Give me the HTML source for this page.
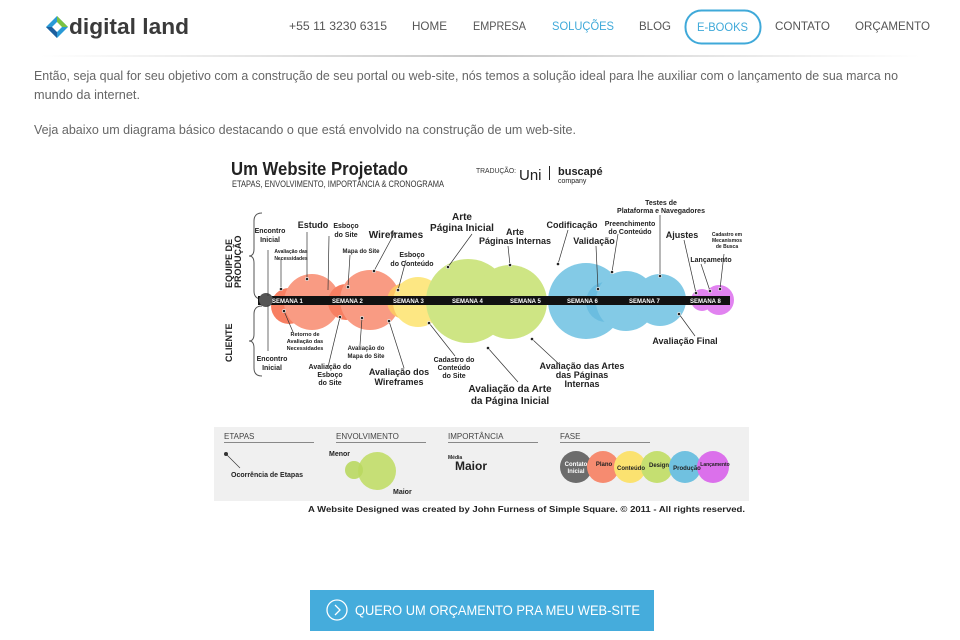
<!DOCTYPE html>
<html><head><meta charset="utf-8"><style>
body{margin:0;width:960px;height:640px;background:#fff;overflow:hidden;font-family:"Liberation Sans",sans-serif}
svg{display:block}
</style></head><body>
<svg width="960" height="640" viewBox="0 0 960 640" xmlns="http://www.w3.org/2000/svg" font-family="Liberation Sans, sans-serif">
<defs><linearGradient id="sh" x1="0" x2="1"><stop offset="0" stop-color="#fff"/><stop offset="0.5" stop-color="#c8c8c8"/><stop offset="1" stop-color="#fff"/></linearGradient></defs>
<g transform="translate(46,16)">
<polygon points="11,0 22,11 11,22 0,11" fill="#2a9ad6"/>
<polygon points="11,0 22,11 11,11" fill="#7cc242"/>
<polygon points="0,11 11,22 11,11" fill="#1d5f9e"/>
<polygon points="11,6 16,11 11,16 6,11" fill="#fff"/>
</g>
<text x="69" y="34" font-size="22" font-weight="bold" fill="#3a3a3a" textLength="120" lengthAdjust="spacingAndGlyphs">digital land</text>
<g font-size="12" fill="#555">
<text x="289" y="30" textLength="98" lengthAdjust="spacingAndGlyphs">+55 11 3230 6315</text>
<text x="412" y="30" textLength="35" lengthAdjust="spacingAndGlyphs">HOME</text>
<text x="473" y="30" textLength="53" lengthAdjust="spacingAndGlyphs">EMPRESA</text>
<text x="552" y="30" fill="#3fa9d9" textLength="62" lengthAdjust="spacingAndGlyphs">SOLUÇÕES</text>
<text x="639" y="30" textLength="32" lengthAdjust="spacingAndGlyphs">BLOG</text>
<text x="697" y="31" fill="#3fa9d9" textLength="51" lengthAdjust="spacingAndGlyphs">E-BOOKS</text>
<text x="775" y="30" textLength="55" lengthAdjust="spacingAndGlyphs">CONTATO</text>
<text x="855" y="30" textLength="75" lengthAdjust="spacingAndGlyphs">ORÇAMENTO</text>
</g>
<rect x="685.5" y="10.5" width="75" height="33" rx="16" fill="none" stroke="#3fa9d9" stroke-width="2"/>
<rect x="40" y="55" width="880" height="2" fill="url(#sh)"/>
<g font-size="13" fill="#666">
<text x="34" y="80" textLength="864" lengthAdjust="spacingAndGlyphs">Então, seja qual for seu objetivo com a construção de seu portal ou web-site, nós temos a solução ideal para lhe auxiliar com o lançamento de sua marca no</text>
<text x="34" y="99" textLength="106" lengthAdjust="spacingAndGlyphs">mundo da internet.</text>
<text x="34" y="134" textLength="542" lengthAdjust="spacingAndGlyphs">Veja abaixo um diagrama básico destacando o que está envolvido na construção de um web-site.</text>
</g>
<text x="231" y="175" font-size="18" font-weight="bold" fill="#222" textLength="177" lengthAdjust="spacingAndGlyphs">Um Website Projetado</text>
<text x="232" y="187" font-size="9" fill="#333" textLength="212" lengthAdjust="spacingAndGlyphs">ETAPAS, ENVOLVIMENTO, IMPORTÂNCIA &amp; CRONOGRAMA</text>
<text x="476" y="173" font-size="7" fill="#333" textLength="40" lengthAdjust="spacingAndGlyphs">TRADUÇÃO:</text>
<text x="519" y="180" font-size="15" fill="#222">Uni</text>
<rect x="549" y="166" width="1" height="14" fill="#222"/>
<text x="558" y="175" font-size="11" font-weight="bold" fill="#222">buscapé</text>
<text x="558" y="183" font-size="7" fill="#222">company</text>
<path d="M262,213 q-8,0 -8,8 v28 q0,7 -5,7 q5,0 5,7 v28 q0,8 8,8" fill="none" stroke="#555" stroke-width="1"/>
<path d="M262,306 q-8,0 -8,8 v20 q0,7 -5,7 q5,0 5,7 v20 q0,8 8,8" fill="none" stroke="#555" stroke-width="1"/>
<text transform="translate(232,288) rotate(-90)" font-size="9" font-weight="bold" fill="#222">EQUIPE DE</text>
<text transform="translate(241,288) rotate(-90)" font-size="9" font-weight="bold" fill="#222">PRODUÇÃO</text>
<text transform="translate(232,362) rotate(-90)" font-size="9" font-weight="bold" fill="#222">CLIENTE</text>
<g opacity="0.75">
<circle cx="289" cy="306" r="18" fill="#f5552e"/>
<circle cx="312" cy="302" r="28" fill="#f87a5a"/>
<circle cx="346" cy="302" r="18" fill="#f5552e"/>
<circle cx="370" cy="300" r="30" fill="#f87a5a"/>
<circle cx="405" cy="301" r="18" fill="#fdb232"/>
<circle cx="418" cy="302" r="25" fill="#fde05a"/>
<circle cx="468" cy="301" r="42" fill="#bedd5c"/>
<circle cx="510" cy="302" r="37" fill="#bedd5c"/>
<circle cx="586" cy="301" r="38" fill="#5ab9de"/>
<circle cx="606" cy="302" r="20" fill="#3aa8d6"/>
<circle cx="626" cy="301" r="30" fill="#5ab9de"/>
<circle cx="660" cy="300" r="26" fill="#5ab9de"/>
<circle cx="702" cy="300" r="11" fill="#d85aeb"/>
<circle cx="719" cy="300" r="15" fill="#d85aeb"/>
</g>
<rect x="258" y="296" width="472" height="9" fill="#111"/>
<circle cx="266" cy="300" r="7" fill="#555"/>
<g font-size="6" font-weight="bold" fill="#fff">
<text x="272" y="303">SEMANA 1</text><text x="332" y="303">SEMANA 2</text><text x="393" y="303">SEMANA 3</text>
<text x="452" y="303">SEMANA 4</text><text x="510" y="303">SEMANA 5</text><text x="567" y="303">SEMANA 6</text>
<text x="629" y="303">SEMANA 7</text><text x="690" y="303">SEMANA 8</text>
</g>
<g stroke="#333" stroke-width="0.7" fill="none">
<path d="M268,250 V296 M281,259 L281,289 M307,232 L307,279 M329,236 L328,290 M350,255 L348,287 M395,232 L374,271 M406,260 L398,290 M472,234 L448,267 M508,246 L510,265 M568,230 L558,264 M596,246 L598,289 M618,234 L612,272 M660,215 L660,276 M684,240 L696,293 M701,264 L710,291 M724,254 L720,289"/>
<path d="M268,305 V351 M284,311 L293,332 M340,317 L328,367 M362,318 L360,345 M389,321 L404,368 M429,323 L455,356 M488,348 L518,382 M532,339 L560,365 M679,314 L695,336"/>
</g>
<g fill="#222" stroke="#fff" stroke-width="0.6"><circle cx="281" cy="289" r="1.6"/><circle cx="307" cy="279" r="1.6"/><circle cx="348" cy="287" r="1.6"/><circle cx="374" cy="271" r="1.6"/><circle cx="398" cy="290" r="1.6"/><circle cx="448" cy="267" r="1.6"/><circle cx="510" cy="265" r="1.6"/><circle cx="558" cy="264" r="1.6"/><circle cx="598" cy="289" r="1.6"/><circle cx="612" cy="272" r="1.6"/><circle cx="660" cy="276" r="1.6"/><circle cx="696" cy="293" r="1.6"/><circle cx="710" cy="291" r="1.6"/><circle cx="720" cy="289" r="1.6"/><circle cx="340" cy="317" r="1.6"/><circle cx="362" cy="318" r="1.6"/><circle cx="389" cy="321" r="1.6"/><circle cx="429" cy="323" r="1.6"/><circle cx="488" cy="348" r="1.6"/><circle cx="532" cy="339" r="1.6"/><circle cx="679" cy="314" r="1.6"/><circle cx="284" cy="311" r="1.6"/></g>
<g fill="#222" font-weight="bold" text-anchor="middle">
<text x="270" y="233" font-size="7">Encontro</text><text x="270" y="242" font-size="7">Inicial</text>
<text x="291" y="253" font-size="5">Avaliação das</text><text x="291" y="260" font-size="5">Necessidades</text>
<text x="313" y="228" font-size="9">Estudo</text>
<text x="346" y="228" font-size="7">Esboço</text><text x="346" y="237" font-size="7">do Site</text>
<text x="361" y="253" font-size="6">Mapa do Site</text>
<text x="396" y="238" font-size="10">Wireframes</text>
<text x="412" y="257" font-size="7">Esboço</text><text x="412" y="266" font-size="7">do Conteúdo</text>
<text x="462" y="220" font-size="10">Arte</text><text x="462" y="231" font-size="10">Página Inicial</text>
<text x="515" y="235" font-size="9">Arte</text><text x="515" y="244" font-size="9">Páginas Internas</text>
<text x="572" y="228" font-size="9">Codificação</text>
<text x="594" y="244" font-size="9">Validação</text>
<text x="630" y="226" font-size="7">Preenchimento</text><text x="630" y="234" font-size="7">do Conteúdo</text>
<text x="661" y="205" font-size="7">Testes de</text><text x="661" y="213" font-size="7">Plataforma e Navegadores</text>
<text x="682" y="238" font-size="9">Ajustes</text>
<text x="727" y="236" font-size="5">Cadastro em</text><text x="727" y="242" font-size="5">Mecanismos</text><text x="727" y="248" font-size="5">de Busca</text>
<text x="711" y="262" font-size="7">Lançamento</text>
<text x="305" y="336" font-size="5.5">Retorno de</text><text x="305" y="343" font-size="5.5">Avaliação das</text><text x="305" y="350" font-size="5.5">Necessidades</text>
<text x="272" y="361" font-size="7">Encontro</text><text x="272" y="370" font-size="7">Inicial</text>
<text x="366" y="350" font-size="6">Avaliação do</text><text x="366" y="358" font-size="6">Mapa do Site</text>
<text x="330" y="369" font-size="7">Avaliação do</text><text x="330" y="377" font-size="7">Esboço</text><text x="330" y="385" font-size="7">do Site</text>
<text x="399" y="375" font-size="9">Avaliação dos</text><text x="399" y="385" font-size="9">Wireframes</text>
<text x="454" y="362" font-size="7">Cadastro do</text><text x="454" y="370" font-size="7">Conteúdo</text><text x="454" y="378" font-size="7">do Site</text>
<text x="510" y="392" font-size="10">Avaliação da Arte</text><text x="510" y="404" font-size="10">da Página Inicial</text>
<text x="582" y="369" font-size="9">Avaliação das Artes</text><text x="582" y="378" font-size="9">das Páginas</text><text x="582" y="387" font-size="9">Internas</text>
<text x="685" y="344" font-size="9">Avaliação Final</text>
</g>
<rect x="214" y="427" width="535" height="74" fill="#f0f0f0"/>
<g font-size="8" fill="#444">
<text x="224" y="439">ETAPAS</text><text x="336" y="439">ENVOLVIMENTO</text><text x="448" y="439">IMPORTÂNCIA</text><text x="560" y="439">FASE</text>
</g>
<g fill="#888"><rect x="224" y="442" width="90" height="1"/><rect x="336" y="442" width="90" height="1"/><rect x="448" y="442" width="90" height="1"/><rect x="560" y="442" width="90" height="1"/></g>
<circle cx="226" cy="454" r="2" fill="#333"/><path d="M226,454 L240,468" stroke="#333" stroke-width="0.6"/>
<text x="231" y="477" font-size="7" font-weight="bold" fill="#222">Ocorrência de Etapas</text>
<circle cx="377" cy="471" r="19" fill="#c6df76"/>
<circle cx="354" cy="470" r="9" fill="#b9d860" opacity="0.9"/>
<text x="329" y="456" font-size="7" font-weight="bold" fill="#222">Menor</text>
<text x="393" y="494" font-size="7" font-weight="bold" fill="#222">Maior</text>
<text x="448" y="459" font-size="5" font-weight="bold" fill="#222">Média</text>
<text x="455" y="470" font-size="12" font-weight="bold" fill="#222">Maior</text>
<g opacity="0.85">
<circle cx="576" cy="467" r="16" fill="#555"/><circle cx="603" cy="467" r="16" fill="#f87a5a"/>
<circle cx="630" cy="467" r="16" fill="#fde05a"/><circle cx="657" cy="467" r="16" fill="#bedd5c"/>
<circle cx="685" cy="467" r="16" fill="#5ab9de"/><circle cx="713" cy="467" r="16" fill="#d85aeb"/>
</g>
<g font-size="6" font-weight="bold" fill="#222" text-anchor="middle">
<text x="576" y="466" fill="#fff">Contato</text><text x="576" y="473" fill="#fff">Inicial</text>
<text x="604" y="466">Plano</text><text x="631" y="470">Conteúdo</text><text x="659" y="467">Design</text>
<text x="687" y="470">Produção</text><text x="715" y="466" font-size="5">Lançamento</text>
</g>
<text x="308" y="512" font-size="8.5" font-weight="bold" fill="#222" textLength="437" lengthAdjust="spacingAndGlyphs">A Website Designed was created by John Furness of Simple Square. © 2011 - All rights reserved.</text>
<rect x="310" y="590" width="344" height="41" fill="#45acdc"/>
<circle cx="337" cy="610" r="10" fill="none" stroke="#fff" stroke-width="1.3"/>
<path d="M335,605 L340,610 L335,615" fill="none" stroke="#fff" stroke-width="1.3"/>
<text x="355" y="615" font-size="14" fill="#fff" textLength="285" lengthAdjust="spacingAndGlyphs">QUERO UM ORÇAMENTO PRA MEU WEB-SITE</text>
</svg>
</body></html>
